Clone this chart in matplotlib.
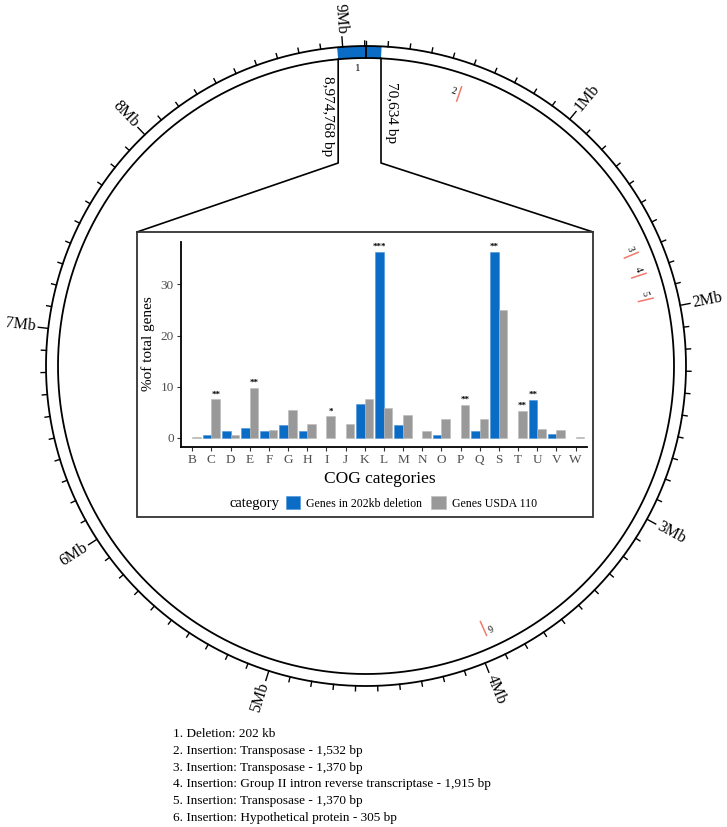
import numpy as np
import matplotlib
matplotlib.use("Agg")
import matplotlib.pyplot as plt
from matplotlib.patches import Rectangle, Polygon, Patch

plt.rcParams['font.family'] = ['Liberation Serif', 'DejaVu Serif']

# ---------------- data ----------------
genome_len = 9105828
deletion_start = 8974768
deletion_end = 70634
deletion_label = "1"
insert_pos = [478000, 1703000, 1813000, 1940000, 3943000]
insert_labels = ["2", "3", "4", "5", "6"]
major_ticks_mb = [1, 2, 3, 4, 5, 6, 7, 8, 9]

categories = ["B", "C", "D", "E", "F", "G", "H", "I", "J", "K", "L",
              "M", "N", "O", "P", "Q", "S", "T", "U", "V", "W"]
deletion_pct = [0, 0.64, 1.35, 1.87, 1.35, 2.45, 1.35, 0, 0, 6.7, 36.3,
                2.45, 0, 0.64, 0, 1.35, 36.3, 0, 7.47, 0.7, 0]
usda_pct = [0.15, 7.5, 0.45, 9.7, 1.5, 5.5, 2.77, 4.2, 2.77, 7.5, 5.86,
            4.44, 1.35, 3.67, 6.44, 3.6, 25.05, 5.28, 1.8, 1.55, 0.15]
sig_cat = ["C", "E", "I", "L", "P", "S", "T", "U"]
sig_series = ["usda", "usda", "usda", "del", "usda", "del", "usda", "del"]
sig_mark = ["**", "**", "*", "***", "**", "**", "**", "**"]

notes = ["1. Deletion: 202 kb",
         "2. Insertion: Transposase - 1,532 bp",
         "3. Insertion: Transposase - 1,370 bp",
         "4. Insertion: Group II intron reverse transcriptase - 1,915 bp",
         "5. Insertion: Transposase - 1,370 bp",
         "6. Insertion: Hypothetical protein - 305 bp"]

# ---------------- layout ----------------
W, H = 727, 827
cx, cy = 366, 366
R_out, R_in = 320, 308
BLUE = '#0A6CC4'
GRAY = '#999999'

fig = plt.figure(figsize=(W / 100, H / 100), dpi=100)
ax = fig.add_axes([0, 0, 1, 1])
ax.set_xlim(0, W)
ax.set_ylim(H, 0)
ax.axis('off')


def ang(pos):
    return np.deg2rad(pos / genome_len * 360.0)


def xy(pos, r):
    t = ang(np.asarray(pos, dtype=float))
    return cx + r * np.sin(t), cy - r * np.cos(t)


# deletion block
d0 = deletion_start - genome_len
seg = np.linspace(d0, deletion_end, 60)
xo, yo = xy(seg, R_out)
xi, yi = xy(seg[::-1], R_in)
ax.add_patch(Polygon(np.column_stack([np.r_[xo, xi], np.r_[yo, yi]]),
                     closed=True, facecolor=BLUE, edgecolor='none', zorder=2))

# circles
full = np.linspace(0, genome_len, 720)
for r in (R_out, R_in):
    x, y = xy(full, r)
    ax.plot(x, y, color='black', lw=1.3, zorder=3)
# seam
x, y = xy([0, 0], [R_in, R_out])
ax.plot(x, y, color='black', lw=1.3, zorder=3)

# ticks
for k in range(0, int(genome_len // 100000) + 1):
    p = k * 100000
    major = (k % 10 == 0) and k > 0
    L = 10 if major else 5
    x, y = xy([p, p], [R_out, R_out + L])
    ax.plot(x, y, color='black', lw=1.0, zorder=3)
for mb in major_ticks_mb:
    p = mb * 1e6
    th = p / genome_len * 360.0
    x, y = xy(p, R_out + 13)
    if th < 180:
        rot, ha = 90 - th, 'left'
    else:
        rot, ha = 270 - th, 'right'
    ax.text(x, y, f"{mb}Mb", rotation=rot, rotation_mode='anchor', ha=ha,
            va='center', fontsize=11.5, zorder=4)

# deletion label
mid = (d0 + deletion_end) / 2
x, y = xy(mid - 12000, 298)
ax.text(x, y, deletion_label, ha='center', va='center', fontsize=8,
        rotation=-mid / genome_len * 360)

# insertions
for p, lab in zip(insert_pos, insert_labels):
    x, y = xy([p, p], [280, 295])
    ax.plot(x, y, color='#F07A6A', lw=1.1, zorder=3)
    lp = p - 30000
    x, y = xy(lp, 288)
    ax.text(x, y, lab, ha='center', va='center', fontsize=7,
            rotation=-lp / genome_len * 360)

# zoom connector lines and box
box_l, box_t, box_r, box_b = 137, 232, 593, 517
kink_y = 163
xl, yl = xy(d0, R_in)
xr, yr = xy(deletion_end, R_in)
ax.plot([xl, xl, box_l], [yl, kink_y, box_t], color='black', lw=1.2)
ax.plot([xr, xr, box_r], [yr, kink_y, box_t], color='black', lw=1.2)
ax.text(xl - 4, 76, f"{deletion_start:,} bp", rotation=-90, ha='left',
        va='top', fontsize=11, rotation_mode='anchor')
ax.text(xr + 4, 82, f"{deletion_end:,} bp", rotation=-90, ha='left',
        va='bottom', fontsize=11, rotation_mode='anchor')
ax.add_patch(Rectangle((box_l, box_t), box_r - box_l, box_b - box_t,
                       fill=False, edgecolor='#333333', lw=1.3, zorder=5))

# ---------------- inset bar chart ----------------
pl, pr, pt, pb = 180.7, 587, 242, 447
ax2 = fig.add_axes([pl / W, 1 - pb / H, (pr - pl) / W, (pb - pt) / H])
idx = np.arange(len(categories))
bw = 0.45
ax2.bar(idx - bw / 2, deletion_pct, width=bw, color=BLUE,
        edgecolor='#4A90D9', lw=[0.4 if v > 0 else 0 for v in deletion_pct])
ax2.bar(idx + bw / 2, usda_pct, width=bw, color=GRAY,
        edgecolor='#BBBBBB', lw=[0.4 if v > 0 else 0 for v in usda_pct])
for c, s, m in zip(sig_cat, sig_series, sig_mark):
    i = categories.index(c)
    if s == 'del':
        xb, v = i - bw / 2, deletion_pct[i]
    else:
        xb, v = i + bw / 2, usda_pct[i]
    ax2.text(xb, v + 0.2, m, ha='center', va='bottom', fontsize=6.5,
             fontweight='bold')
ax2.set_xlim(-0.6, len(categories) - 0.4)
ax2.set_ylim(-1.8, 38.3)
ax2.set_xticks(idx)
ax2.set_xticklabels(categories)
ax2.set_yticks([0, 10, 20, 30])
for sp in ('top', 'right'):
    ax2.spines[sp].set_visible(False)
for sp in ('left', 'bottom'):
    ax2.spines[sp].set_linewidth(1.3)
ax2.tick_params(axis='both', colors='#333333', labelcolor='#4D4D4D',
                labelsize=9.5, length=3, width=0.8, pad=2)
ax2.set_facecolor('none')

ax.text((pl + pr) / 2 - 4, 479, "COG categories", ha='center', va='center',
        fontsize=12.5)
ax.text(148, 344, "%of total genes", ha='center', va='center',
        fontsize=11, rotation=90)

# legend
ax.text(230, 503, "category", ha='left', va='center', fontsize=10.5)
handles = [Patch(facecolor=BLUE, edgecolor='#4A90D9', lw=0.4),
           Patch(facecolor=GRAY, edgecolor='#BBBBBB', lw=0.4)]
fig.legend(handles, ["Genes in 202kb deletion", "Genes USDA 110"],
           loc='center left', bbox_to_anchor=(286 / W, 1 - 503 / H),
           ncol=2, frameon=False, fontsize=8.6, borderpad=0,
           borderaxespad=0, handlelength=1.2, handleheight=1.2,
           handletextpad=0.5, columnspacing=0.75)

# notes
for j, t in enumerate(notes):
    ax.text(173, 734 + j * 16.8, t, ha='left', va='center', fontsize=9.5)

fig.savefig("out.png", dpi=100)
